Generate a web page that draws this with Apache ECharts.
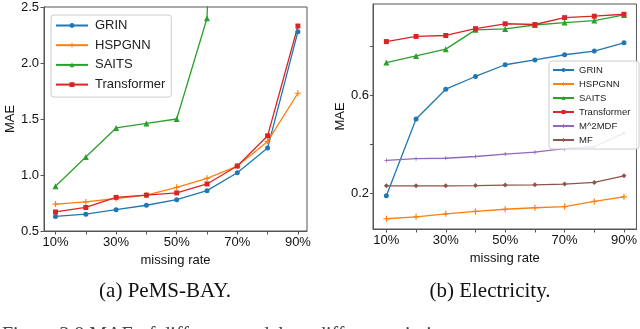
<!DOCTYPE html>
<html>
<head>
<meta charset="utf-8">
<script src="https://cdn.jsdelivr.net/npm/echarts@6/dist/echarts.min.js"></script>
<style>
    html, body { margin: 0; padding: 0; background: #fff; }
    .chart { width: 640px; height: 329px; }
</style>
</head>
<body>
<div class="chart"></div>
<script>
// 缺失率 (x轴)
var rates = [10, 20, 30, 40, 50, 60, 70, 80, 90];
var rateLabels = [10, 30, 50, 70, 90];

// (a) PeMS-BAY 数据
var bayGRIN = [0.63, 0.65, 0.69, 0.73, 0.78, 0.86, 1.02, 1.24, 2.28];
var bayHSPGNN = [0.74, 0.76, 0.79, 0.82, 0.89, 0.97, 1.08, 1.30, 1.73];
var baySAITS = [0.90, 1.16, 1.42, 1.46, 1.50, 2.40, 10.5, 11.0, 12.0];
var bayTransformer = [0.67, 0.71, 0.80, 0.82, 0.84, 0.92, 1.08, 1.35, 2.33];
var bayTicks = [0.5, 1.0, 1.5, 2.0, 2.5];

// (b) Electricity 数据
var elcGRIN = [0.189, 0.504, 0.626, 0.678, 0.726, 0.746, 0.767, 0.782, 0.816];
var elcHSPGNN = [0.095, 0.103, 0.115, 0.125, 0.134, 0.140, 0.145, 0.166, 0.185];
var elcSAITS = [0.735, 0.762, 0.790, 0.869, 0.873, 0.889, 0.899, 0.907, 0.930];
var elcTransformer = [0.821, 0.842, 0.846, 0.874, 0.894, 0.891, 0.919, 0.925, 0.933];
var elcM2MDF = [0.334, 0.341, 0.343, 0.350, 0.360, 0.368, 0.382, 0.390, 0.446];
var elcMF = [0.230, 0.230, 0.230, 0.231, 0.233, 0.234, 0.237, 0.244, 0.271];
var elcTicks = [0.2, 0.4, 0.6, 0.8];
var elcLabels = [0.2, 0.6];

(function () {
    var myChart = echarts.init(document.querySelector(".chart"), null, { renderer: "canvas" });

    var sans = "Liberation Sans";
    var boxColor = "#555";
    var plusPath = "path://M4,0H6V4H10V6H6V10H4V6H0V4H4Z";

    function pairs(vals) {
        return rates.map(function (r, i) {
            return [r, vals[i]];
        });
    }

    function line(name, vals, color, symbol, axis, size) {
        return {
            name: name,
            type: "line",
            xAxisIndex: axis,
            yAxisIndex: axis,
            data: pairs(vals),
            symbol: symbol,
            symbolSize: size || 5,
            showAllSymbol: true,
            clip: true,
            lineStyle: { color: color, width: 1.3 },
            itemStyle: { color: color },
            emphasis: { disabled: true },
            animation: false
        };
    }

    function xAxis(grid, min, max) {
        return {
            type: "value",
            gridIndex: grid,
            min: min,
            max: max,
            name: "missing rate",
            nameLocation: "middle",
            nameGap: 16,
            nameTextStyle: { fontFamily: sans, fontSize: 13, color: "#111" },
            axisLine: { show: true, lineStyle: { color: boxColor, width: 1 } },
            axisTick: { show: true, length: 3.5, inside: false, customValues: rates, lineStyle: { color: boxColor } },
            axisLabel: {
                customValues: rateLabels,
                margin: 5,
                fontFamily: sans,
                fontSize: 13,
                color: "#111",
                formatter: "{value}%"
            },
            splitLine: { show: false }
        };
    }

    var option = {
        backgroundColor: "#fff",
        // 两个坐标系
        grid: [
            { left: 44, right: 333, top: 7, bottom: 98, show: true, borderColor: boxColor, borderWidth: 1 },
            { left: 373, right: 1, top: 4, bottom: 100, show: true, borderColor: boxColor, borderWidth: 1 }
        ],
        xAxis: [xAxis(0, 6.2, 93), xAxis(1, 5.5, 94.2)],
        yAxis: [
            {
                type: "value",
                gridIndex: 0,
                min: 0.5,
                max: 2.5,
                interval: 0.5,
                name: "MAE",
                nameLocation: "middle",
                nameGap: 24,
                nameTextStyle: { fontFamily: sans, fontSize: 13, color: "#111" },
                axisLine: { show: true, lineStyle: { color: boxColor } },
                axisTick: { show: true, length: 3.5, customValues: bayTicks, lineStyle: { color: boxColor } },
                axisLabel: {
                    customValues: bayTicks,
                    margin: 5,
                    fontFamily: sans,
                    fontSize: 13,
                    color: "#111",
                    formatter: function (v) { return v.toFixed(1); }
                },
                splitLine: { show: false }
            },
            {
                type: "value",
                gridIndex: 1,
                min: 0.053,
                max: 0.975,
                name: "MAE",
                nameLocation: "middle",
                nameGap: 23,
                nameTextStyle: { fontFamily: sans, fontSize: 13, color: "#111" },
                axisLine: { show: true, lineStyle: { color: boxColor } },
                axisTick: { show: true, length: 3, customValues: elcTicks, lineStyle: { color: boxColor } },
                axisLabel: {
                    customValues: elcLabels,
                    margin: 4,
                    fontFamily: sans,
                    fontSize: 13,
                    color: "#111",
                    formatter: function (v) { return v.toFixed(1); }
                },
                splitLine: { show: false }
            }
        ],
        // 图例 (图标缩小, 行高由文字决定)
        legend: [
            {
                orient: "vertical",
                left: 51,
                top: 15,
                padding: [4, 6, 6, 4],
                itemWidth: 32,
                itemHeight: 6,
                itemGap: 6.7,
                borderColor: "#ccc",
                borderWidth: 1,
                borderRadius: 3,
                backgroundColor: "rgba(255,255,255,0.85)",
                textStyle: { fontFamily: sans, fontSize: 13, color: "#222", lineHeight: 12, padding: [0, 0, 0, 2] },
                data: ["GRIN", "HSPGNN", "SAITS", "Transformer"],
                selectedMode: false
            },
            {
                orient: "vertical",
                left: 549,
                top: 61,
                padding: [4, 6, 4, 3],
                itemWidth: 21,
                itemHeight: 5,
                itemGap: 4,
                borderColor: "#ccc",
                borderWidth: 1,
                borderRadius: 3,
                backgroundColor: "rgba(255,255,255,0.85)",
                textStyle: { fontFamily: sans, fontSize: 9.5, color: "#222", lineHeight: 9 },
                data: ["GRIN ", "HSPGNN ", "SAITS ", "Transformer ", "M^2MDF", "MF"],
                selectedMode: false
            }
        ],
        series: [
            line("GRIN", bayGRIN, "#1f77b4", "circle", 0),
            line("HSPGNN", bayHSPGNN, "#ff7f0e", plusPath, 0, 6),
            line("SAITS", baySAITS, "#2ca02c", "triangle", 0, 6),
            line("Transformer", bayTransformer, "#d62728", "rect", 0),
            line("GRIN ", elcGRIN, "#1f77b4", "circle", 1),
            line("HSPGNN ", elcHSPGNN, "#ff7f0e", plusPath, 1, 6),
            line("SAITS ", elcSAITS, "#2ca02c", "triangle", 1, 6),
            line("Transformer ", elcTransformer, "#d62728", "rect", 1),
            line("M^2MDF", elcM2MDF, "#9467bd", plusPath, 1, 4),
            line("MF", elcMF, "#8c564b", "diamond", 1, 5)
        ],
        // 子图标题和图注
        graphic: [
            {
                type: "text",
                x: 165,
                y: 281,
                style: { text: "(a) PeMS-BAY.", font: "21px 'Liberation Serif'", fill: "#111", align: "center" }
            },
            {
                type: "text",
                x: 490,
                y: 281,
                style: { text: "(b) Electricity.", font: "21px 'Liberation Serif'", fill: "#111", align: "center" }
            },
            {
                type: "text",
                x: 2,
                y: 326,
                style: {
                    text: "Figure 3.8 MAE of different models at different missing rates.",
                    font: "20px 'Liberation Serif'",
                    fill: "#444",
                    verticalAlign: "top"
                }
            }
        ]
    };

    myChart.setOption(option);
    window.addEventListener("resize", function () {
        myChart.resize();
    });
})();
</script>
</body>
</html>
